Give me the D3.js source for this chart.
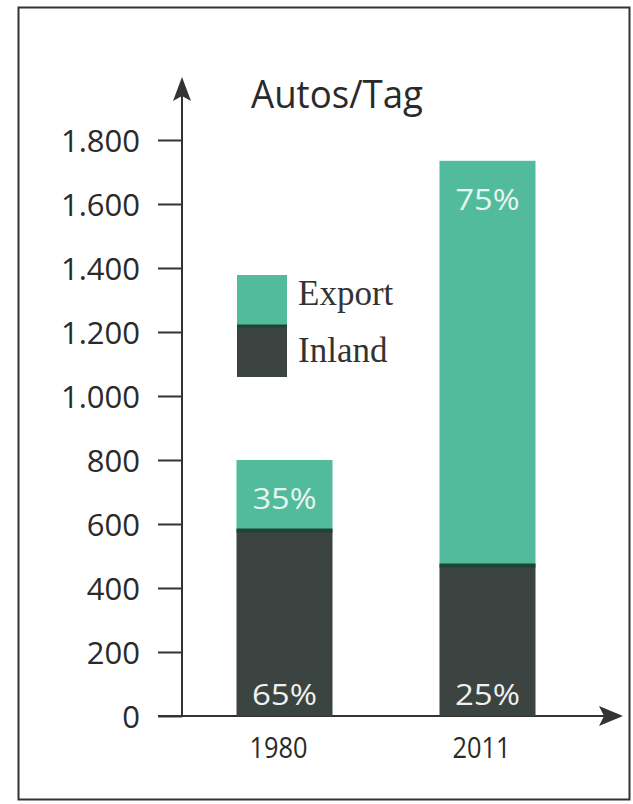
<!DOCTYPE html>
<html>
<head>
<meta charset="utf-8">
<script src="https://cdn.jsdelivr.net/npm/d3@7"></script>
<style>
  body { margin: 0; background: #fff; }
  svg { display: block; }
</style>
</head>
<body>
<div id="chart"></div>
<script>
// data
const years = ["1980", "2011"];
const inland = [580, 470];
const exportCars = [220, 1265];
const inlandPct = ["65%", "25%"];
const exportPct = ["35%", "75%"];
const yTicks = [0, 200, 400, 600, 800, 1000, 1200, 1400, 1600, 1800];

const W = 633, H = 804;
const green = "#52bb9b", dark = "#3b4440", seam = "#1e4436";
const sans = "'Open Sans', sans-serif";

const de = d3.formatLocale({ decimal: ",", thousands: ".", grouping: [3], currency: ["", " €"] });
const fmt = de.format(",d");

const svg = d3.select("#chart").append("svg")
    .attr("width", W)
    .attr("height", H);

// frame
svg.append("rect")
    .attr("x", 18.5).attr("y", 7.5)
    .attr("width", 611).attr("height", 792)
    .attr("fill", "none")
    .attr("stroke", "#333")
    .attr("stroke-width", 2);

let x = d3.scalePoint().domain(years).range([182, 590]).padding(0.505);
let y = d3.scaleLinear().domain([0, 1800]).range([716, 140]);
const barW = 96;

// y axis
const yAxis = d3.axisLeft(y)
    .tickValues(yTicks)
    .tickSize(24)
    .tickPadding(18)
    .tickFormat(fmt);

const gy = svg.append("g")
    .attr("transform", "translate(182,0)")
    .call(yAxis);
gy.select(".domain").remove();
gy.selectAll(".tick line").attr("stroke", "#333").attr("stroke-width", 2);
gy.selectAll(".tick text")
    .attr("fill", "#2a2a2a")
    .attr("dy", "0.36em")
    .style("font-family", sans)
    .style("font-size", "31px");

// axis lines with arrows
svg.append("line")
    .attr("x1", 182).attr("x2", 182)
    .attr("y1", y(0)).attr("y2", 96)
    .attr("stroke", "#333").attr("stroke-width", 2);
svg.append("path")
    .attr("d", "M182,77 L173,101 L182,96 L191,101 Z")
    .attr("fill", "#333");

svg.append("line")
    .attr("x1", 158).attr("x2", 606)
    .attr("y1", y(0)).attr("y2", y(0))
    .attr("stroke", "#333").attr("stroke-width", 2);
svg.append("path")
    .attr("d", `M623,${y(0)} L599,${y(0) - 10} L604,${y(0)} L599,${y(0) + 10} Z`)
    .attr("fill", "#333");

// bars
const bars = svg.append("g");
years.forEach((yr, i) => {
    const cx = x(yr);
    bars.append("rect")
        .attr("x", cx - barW / 2)
        .attr("y", y(inland[i]))
        .attr("width", barW)
        .attr("height", y(0) - y(inland[i]))
        .attr("fill", dark);
    bars.append("rect")
        .attr("x", cx - barW / 2)
        .attr("y", y(inland[i] + exportCars[i]))
        .attr("width", barW)
        .attr("height", y(inland[i]) - y(inland[i] + exportCars[i]))
        .attr("fill", green);
    bars.append("line")
        .attr("x1", cx - barW / 2).attr("x2", cx + barW / 2)
        .attr("y1", y(inland[i])).attr("y2", y(inland[i]))
        .attr("stroke", seam).attr("stroke-width", 4);

    bars.append("text")
        .attr("x", cx).attr("y", y(inland[i] + exportCars[i]) + 49)
        .attr("text-anchor", "middle")
        .attr("fill", "#e8f6f1")
        .attr("textLength", 64)
        .attr("lengthAdjust", "spacingAndGlyphs")
        .style("font-family", sans)
        .style("font-size", "29px")
        .text(exportPct[i]);
    bars.append("text")
        .attr("x", cx).attr("y", y(0) - 11)
        .attr("text-anchor", "middle")
        .attr("fill", "#f0f0f0")
        .attr("textLength", 65)
        .attr("lengthAdjust", "spacingAndGlyphs")
        .style("font-family", sans)
        .style("font-size", "29px")
        .text(inlandPct[i]);

    svg.append("text")
        .attr("x", cx - 6).attr("y", 758)
        .attr("text-anchor", "middle")
        .attr("fill", "#2a2a2a")
        .attr("textLength", 58)
        .attr("lengthAdjust", "spacingAndGlyphs")
        .style("font-family", sans)
        .style("font-size", "29px")
        .text(yr);
});

// title
svg.append("text")
    .attr("x", 251).attr("y", 108)
    .attr("fill", "#2a2a2a")
    .attr("textLength", 172)
    .attr("lengthAdjust", "spacingAndGlyphs")
    .style("font-family", sans)
    .style("font-size", "38px")
    .text("Autos/Tag");

// legend
const legend = [["Export", green], ["Inland", dark]];
legend.forEach((d, i) => {
    svg.append("rect")
        .attr("x", 237).attr("y", 275 + i * 51)
        .attr("width", 50).attr("height", 51)
        .attr("fill", d[1]);
    svg.append("text")
        .attr("x", 298).attr("y", 305 + i * 57)
        .attr("fill", "#333")
        .style("font-family", "'Liberation Serif', serif")
        .style("font-size", "35px")
        .text(d[0]);
});
svg.append("line")
    .attr("x1", 237).attr("x2", 287)
    .attr("y1", 326).attr("y2", 326)
    .attr("stroke", seam).attr("stroke-width", 3);
</script>
</body>
</html>
